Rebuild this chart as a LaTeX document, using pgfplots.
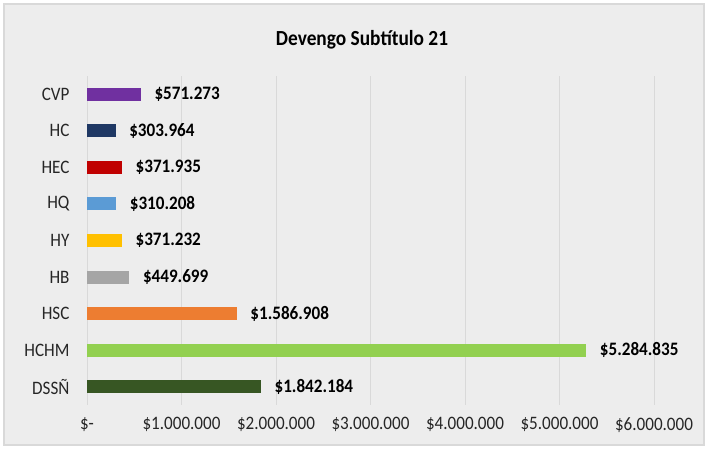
\documentclass[border=0pt]{standalone}
\usepackage{fontspec}
\setmainfont{Carlito}[FakeStretch=0.9]
\usepackage{pgfplots}
\pgfplotsset{compat=1.18}

\definecolor{bgc}{HTML}{EDEDED}
\definecolor{framec}{HTML}{D9D9D9}
\definecolor{gridc}{HTML}{D9D9D9}
\definecolor{cCVP}{HTML}{7030A0}
\definecolor{cHC}{HTML}{1F3864}
\definecolor{cHEC}{HTML}{C00000}
\definecolor{cHQ}{HTML}{5B9BD5}
\definecolor{cHY}{HTML}{FFC000}
\definecolor{cHB}{HTML}{A5A5A5}
\definecolor{cHSC}{HTML}{ED7D31}
\definecolor{cHCHM}{HTML}{92D050}
\definecolor{cDSS}{HTML}{375623}

\begin{document}
\begin{tikzpicture}[x=1pt,y=1pt]
\fill[white] (0,0) rectangle (708,449);
\filldraw[fill=bgc, draw=framec, line width=1.5pt] (4,4) rectangle (704,445);
\path[use as bounding box] (0,0) rectangle (708,449);
\node[font=\fontsize{21.5}{25}\selectfont\bfseries] at (362,409) {Devengo Subtítulo 21};
\begin{axis}[
  at={(87pt,44pt)}, anchor=south west,
  scale only axis, width=567pt, height=329pt,
  xbar, bar width=13pt, bar shift=0pt,
  xmin=0, xmax=6000000, ymin=-0.5, ymax=8.5,
  axis line style={draw=none},
  major tick length=0pt,
  xmajorgrids, grid style={gridc, line width=0.8pt},
  scaled x ticks=false,
  xtick={0,1000000,2000000,3000000,4000000,5000000,6000000},
  xticklabels={\$-,\$1.000.000,\$2.000.000,\$3.000.000,\$4.000.000,\$5.000.000,\$6.000.000},
  ytick={0,1,2,3,4,5,6,7,8},
  yticklabels={DSSÑ,HCHM,HSC,HB,HY,HQ,HEC,HC,CVP},
  ticklabel style={font=\fontsize{19}{22}\selectfont, text=black!85},
  xticklabel style={yshift=-9pt},
  yticklabel style={xshift=-14pt},
  point meta=explicit symbolic,
  nodes near coords,
  nodes near coords style={font=\fontsize{19}{22}\selectfont\bfseries, text=black, anchor=west, xshift=10pt},
  every axis plot/.append style={draw=none},
]
\addplot[fill=cDSS] coordinates {(1842184,0) [\$1.842.184]};
\addplot[fill=cHCHM] coordinates {(5284835,1) [\$5.284.835]};
\addplot[fill=cHSC] coordinates {(1586908,2) [\$1.586.908]};
\addplot[fill=cHB] coordinates {(449699,3) [\$449.699]};
\addplot[fill=cHY] coordinates {(371232,4) [\$371.232]};
\addplot[fill=cHQ] coordinates {(310208,5) [\$310.208]};
\addplot[fill=cHEC] coordinates {(371935,6) [\$371.935]};
\addplot[fill=cHC] coordinates {(303964,7) [\$303.964]};
\addplot[fill=cCVP] coordinates {(571273,8) [\$571.273]};
\end{axis}
\end{tikzpicture}
\end{document}
